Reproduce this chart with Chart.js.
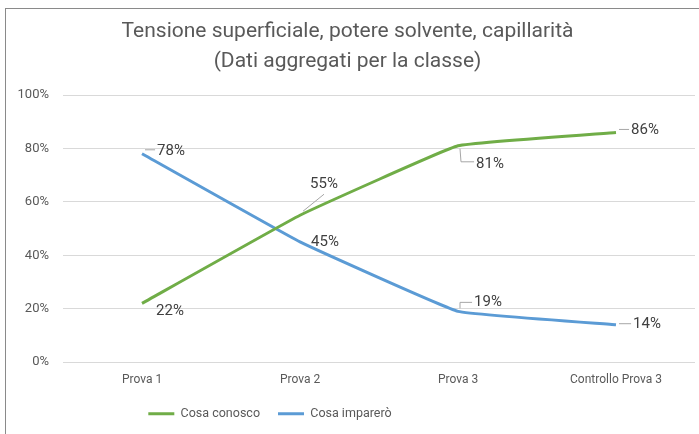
<!DOCTYPE html>
<html lang="it">
<head>
<meta charset="UTF-8">
<title>Tensione superficiale</title>
<style>
    * { margin: 0; padding: 0; box-sizing: border-box; }
    body { width: 699px; height: 434px; background: #fff; position: relative; overflow: hidden; }
    .frame {
        position: absolute; left: 5px; top: 8px; width: 700px; height: 440px;
        border-left: 1px solid #8a8a8a; border-top: 1px solid #8a8a8a;
    }
    .wrap { position: absolute; left: 0; top: 0; width: 699px; height: 434px; }
</style>
</head>
<body>
<div class="frame"></div>
<div class="wrap"><canvas id="chart" width="699" height="434"></canvas></div>

<script src="https://cdn.jsdelivr.net/npm/chart.js@4.4.0/dist/chart.umd.min.js"></script>
<script>
    // Data
    const categories = ['Prova 1', 'Prova 2', 'Prova 3', 'Controllo Prova 3'];
    const conosco = [22, 55, 81, 86];
    const imparero = [78, 45, 19, 14];
    const yTicks = [0, 20, 40, 60, 80, 100];

    // Label placement (offset from point, leader style)
    const conoscoLabelPos = [[28, 8, ''], [24, -31, 'diag'], [32, 18, 'elbowDown'], [29, -2, 'line']];
    const imparoLabelPos = [[29, -3, 'line'], [25, 0, ''], [30, -9, 'elbowUp'], [31, 0, 'line']];

    const FONT = 'Roboto, "Open Sans", sans-serif';
    const GREY = '#595959';

    // Data labels with small leader lines
    const dataLabels = {
        id: 'dataLabels',
        afterDatasetsDraw(chart) {
            const ctx = chart.ctx;
            const placements = [conoscoLabelPos, imparoLabelPos];
            ctx.save();
            ctx.font = '15px ' + FONT;
            ctx.fillStyle = '#404040';
            ctx.textAlign = 'center';
            ctx.textBaseline = 'middle';
            chart.data.datasets.forEach((ds, di) => {
                const meta = chart.getDatasetMeta(di);
                meta.data.forEach((pt, i) => {
                    const [dx, dy, leader] = placements[di][i];
                    const lx = pt.x + dx, ly = pt.y + dy;
                    const text = ds.data[i] + '%';
                    const w = ctx.measureText(text).width;
                    const left = lx - w / 2 - 2;
                    ctx.strokeStyle = '#a6a6a6';
                    ctx.lineWidth = 1;
                    ctx.beginPath();
                    if (leader === 'line') {
                        ctx.moveTo(pt.x + 3, ly - 1);
                        ctx.lineTo(left, ly - 1);
                    } else if (leader === 'diag') {
                        ctx.moveTo(pt.x + 3, pt.y - 4);
                        ctx.lineTo(lx, ly + 10);
                    } else if (leader === 'elbowDown') {
                        ctx.moveTo(pt.x + 2, pt.y + 3);
                        ctx.lineTo(pt.x + 3, ly - 2);
                        ctx.lineTo(left, ly - 2);
                    } else if (leader === 'elbowUp') {
                        ctx.moveTo(pt.x + 2, pt.y - 3);
                        ctx.lineTo(pt.x + 2, ly);
                        ctx.lineTo(left, ly);
                    }
                    ctx.stroke();
                    ctx.fillText(text, lx, ly);
                });
            });
            ctx.restore();
        }
    };

    // Move the legend left like in the original
    const legendShift = {
        id: 'legendShift',
        afterUpdate(chart) {
            const lg = chart.legend;
            if (!lg) return;
            lg.left = 0;
            lg.right = 540;
            lg.adjustHitBoxes();
        }
    };

    new Chart(document.getElementById('chart'), {
        type: 'line',
        data: {
            labels: categories,
            datasets: [
                {
                    label: 'Cosa conosco',
                    data: conosco,
                    borderColor: '#70ad47',
                    backgroundColor: '#70ad47',
                    borderWidth: 3,
                    pointRadius: 0,
                    tension: 0.08
                },
                {
                    label: 'Cosa imparerò',
                    data: imparero,
                    borderColor: '#5b9bd5',
                    backgroundColor: '#5b9bd5',
                    borderWidth: 3,
                    pointRadius: 0,
                    tension: 0.08
                }
            ]
        },
        options: {
            responsive: false,
            animation: false,
            devicePixelRatio: 1,
            layout: { padding: { left: 0, right: 4, top: 0, bottom: 4 } },
            plugins: {
                title: {
                    display: true,
                    text: ['Tensione superficiale, potere solvente, capillarità', '(Dati aggregati per la classe)'],
                    color: GREY,
                    font: { family: FONT, size: 21, weight: 'normal', lineHeight: 1.43 },
                    padding: { top: 17, bottom: 18 }
                },
                legend: {
                    position: 'bottom',
                    labels: {
                        color: GREY,
                        font: { family: FONT, size: 12.5 },
                        usePointStyle: true,
                        pointStyle: 'line',
                        pointStyleWidth: 26,
                        padding: 18
                    }
                },
                tooltip: { enabled: false }
            },
            scales: {
                x: {
                    offset: true,
                    afterFit(scale) { scale.height -= 9; },
                    grid: { display: false, drawTicks: false },
                    border: { display: false },
                    ticks: { color: GREY, font: { family: FONT, size: 12 }, padding: 11 }
                },
                y: {
                    min: 0,
                    max: 100,
                    afterBuildTicks(scale) { scale.ticks = yTicks.map(v => ({ value: v })); },
                    afterFit(scale) { scale.width = 63; },
                    grid: { color: '#d9d9d9', drawTicks: false },
                    border: { display: false },
                    ticks: {
                        color: GREY,
                        font: { family: FONT, size: 13 },
                        padding: 14,
                        callback: v => v + '%'
                    }
                }
            }
        },
        plugins: [dataLabels, legendShift]
    });
</script>
</body>
</html>
